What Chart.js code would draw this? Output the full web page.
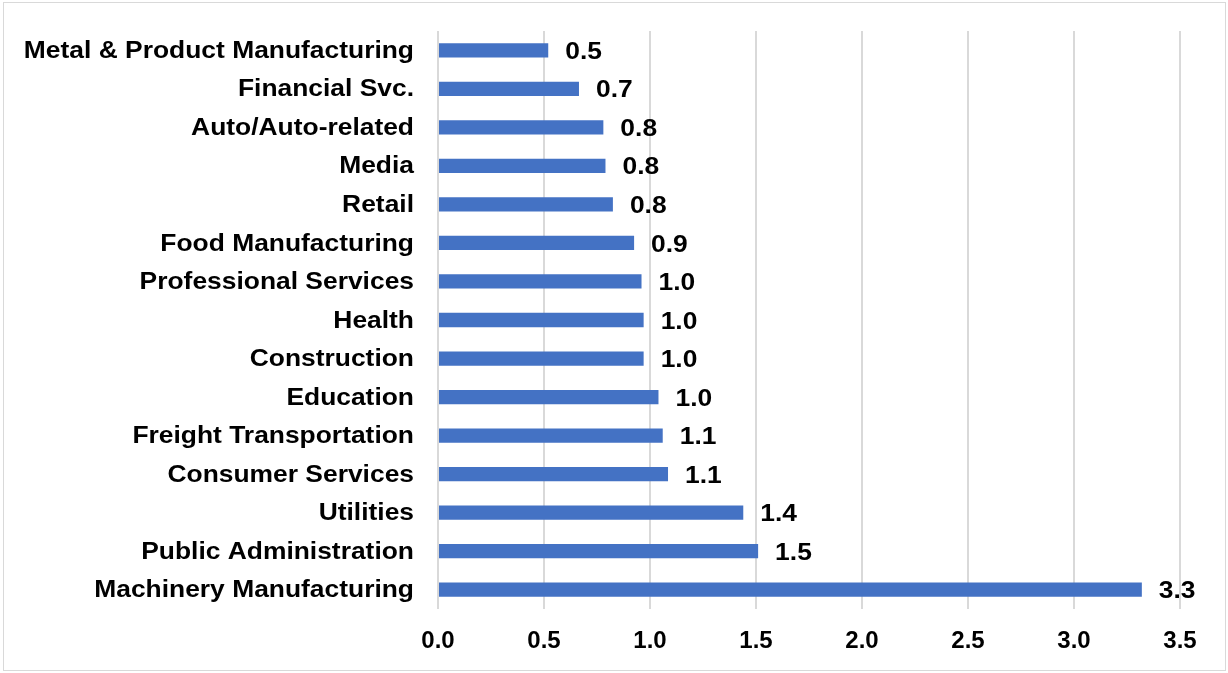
<!DOCTYPE html>
<html>
<head>
<meta charset="utf-8">
<script src="https://cdn.jsdelivr.net/npm/chart.js@4"></script>
<style>
  html, body { margin: 0; padding: 0; background: #fff; }
  #wrap { position: relative; width: 1228px; height: 673px; }
  #frame { position: absolute; left: 3px; top: 2px; width: 1223px; height: 669px; border: 1.5px solid #d9d9d9; box-sizing: border-box; }
</style>
</head>
<body>
<div id="wrap">
  <div id="frame"></div>
  <canvas id="grafico" width="1228" height="673"></canvas>
</div>
<script>
// categorias (de arriba hacia abajo)
const categorias = [
  'Metal & Product Manufacturing',
  'Financial Svc.',
  'Auto/Auto-related',
  'Media',
  'Retail',
  'Food Manufacturing',
  'Professional Services',
  'Health',
  'Construction',
  'Education',
  'Freight Transportation',
  'Consumer Services',
  'Utilities',
  'Public Administration',
  'Machinery Manufacturing'
];
const valores = [0.52, 0.665, 0.78, 0.79, 0.825, 0.925, 0.96, 0.97, 0.97, 1.04, 1.06, 1.085, 1.44, 1.51, 3.32];
const ticksX = [0, 0.5, 1, 1.5, 2, 2.5, 3, 3.5];

const fuente = '"Liberation Sans", Arial, sans-serif';
const estirar = 1.1; // el texto del original sale un poco ancho

function textoAncho(ctx, txt, x, y, align) {
  ctx.save();
  ctx.translate(x, y);
  ctx.scale(estirar, 1);
  ctx.textAlign = align;
  ctx.fillText(txt, 0, 0);
  ctx.restore();
}

// nombres de categoria y etiquetas de valor
const textos = {
  id: 'textos',
  afterDatasetsDraw(chart) {
    const ctx = chart.ctx;
    const meta = chart.getDatasetMeta(0);
    const ejeY = chart.scales.y;
    ctx.save();
    ctx.font = 'bold 24px ' + fuente;
    ctx.fillStyle = '#000';
    ctx.textBaseline = 'middle';
    categorias.forEach((c, i) => {
      textoAncho(ctx, c, 414, ejeY.getPixelForTick(i) + 1, 'right');
    });
    meta.data.forEach((bar, i) => {
      textoAncho(ctx, valores[i].toFixed(1), bar.x + 17, bar.y + 2, 'left');
    });
    ctx.restore();
  }
};

const ctx = document.getElementById('grafico').getContext('2d');
const myChart = new Chart(ctx, {
  type: 'bar',
  data: {
    labels: categorias,
    datasets: [{
      data: valores,
      backgroundColor: '#4472c4',
      borderWidth: 0,
      barPercentage: 0.37,
      categoryPercentage: 1
    }]
  },
  options: {
    indexAxis: 'y',
    responsive: false,
    animation: false,
    layout: { padding: { left: 0, right: 48, top: 31, bottom: 24 } },
    plugins: {
      legend: { display: false },
      tooltip: { enabled: false }
    },
    scales: {
      x: {
        min: 0,
        max: 3.5,
        afterBuildTicks: (scale) => { scale.ticks = ticksX.map(v => ({ value: v })); },
        afterFit: (scale) => { scale.height = 40; },
        grid: { color: '#d9d9d9', lineWidth: 2, drawTicks: false },
        border: { display: false },
        ticks: {
          color: '#000',
          padding: 18,
          font: { family: fuente, size: 24, weight: 'bold' },
          callback: (v) => Number(v).toFixed(1)
        }
      },
      y: {
        afterFit: (scale) => { scale.width = 438; },
        grid: { display: false },
        border: { display: false },
        ticks: { display: false }
      }
    }
  },
  plugins: [textos]
});
</script>
</body>
</html>
